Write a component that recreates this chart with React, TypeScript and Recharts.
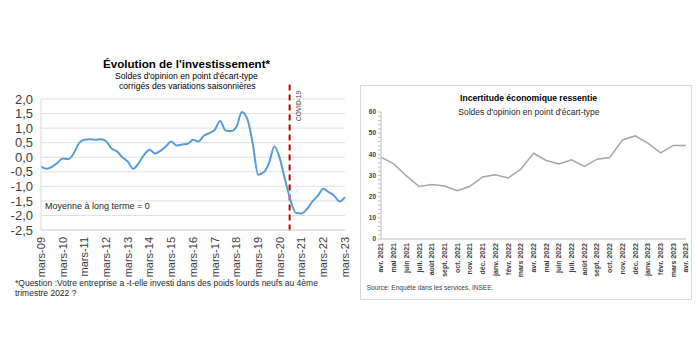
import React from "react";
import {
  LineChart, Line, XAxis, YAxis, CartesianGrid, ReferenceLine,
} from "recharts";

// quarterly balance of opinion, mars-09 .. mars-23
const INVEST = [
  -0.32, -0.4, -0.33, -0.2, -0.04, -0.07, 0.12, 0.48, 0.6, 0.62,
  0.6, 0.62, 0.55, 0.3, 0.2, 0.0, -0.15, -0.4, -0.2, 0.08,
  0.26, 0.13, 0.22, 0.37, 0.54, 0.4, 0.44, 0.46, 0.6, 0.54,
  0.74, 0.83, 0.94, 1.24, 0.92, 0.9, 1.04, 1.55, 1.32, 0.48,
  -0.6, -0.52, -0.2, 0.37, -0.05, -0.8, -1.5, -1.92, -1.93, -1.78,
  -1.52, -1.32, -1.08, -1.2, -1.32, -1.52, -1.37,
];
const YEAR_LABELS = [
  "mars-09", "mars-10", "mars-11", "mars-12", "mars-13", "mars-14", "mars-15",
  "mars-16", "mars-17", "mars-18", "mars-19", "mars-20", "mars-21", "mars-22", "mars-23",
];
const INVEST_TICKS = [-2.5, -2, -1.5, -1, -0.5, 0, 0.5, 1, 1.5, 2];
const COVID_AT = 45.8;

const MONTHS = [
  "avr. 2021", "mai 2021", "juin 2021", "juil. 2021", "août 2021", "sept. 2021",
  "oct. 2021", "nov. 2021", "déc. 2021", "janv. 2022", "févr. 2022", "mars 2022",
  "avr. 2022", "mai 2022", "juin 2022", "juil. 2022", "août 2022", "sept. 2022",
  "oct. 2022", "nov. 2022", "déc. 2022", "janv. 2023", "févr. 2023", "mars 2023",
  "avr. 2023",
];
const UNCERTAINTY = [
  38.7, 35.5, 29.8, 24.8, 25.7, 25.0, 22.8, 24.9, 29.3, 30.3,
  28.8, 33.0, 40.5, 37.1, 35.4, 37.4, 34.3, 37.7, 38.5, 46.8,
  48.7, 45.3, 40.7, 44.2, 44.2,
];
const UNC_TICKS = Array.from({ length: 31 }, (_, i) => i * 2);

const investData = INVEST.map((v, i) => ({ q: i, v }));
const uncData = MONTHS.map((m, i) => ({ m, v: UNCERTAINTY[i] }));
const FONT = "'Liberation Sans', Arial, sans-serif";

const YearTick = ({ x, y, payload }: any) => (
  <g transform={`translate(${x},${y})`}>
    <text transform="rotate(-90)" x={1} dy="0.35em" textAnchor="end"
      fontSize={11} fill="#404040" fontFamily={FONT}>
      {YEAR_LABELS[Math.round(payload.value / 4)]}
    </text>
  </g>
);

const MonthTick = ({ x, y, payload }: any) => (
  <g transform={`translate(${x},${y})`}>
    <text transform="rotate(-90)" x={4} dy="0.35em" textAnchor="end"
      fontSize={7} fontWeight="bold" fill="#404040" fontFamily={FONT}>
      {payload.value}
    </text>
  </g>
);

const covidLabel = (props: any) => {
  const vb = props.viewBox || {};
  return (
    <text transform={`translate(${vb.x + 9},91) rotate(-90)`} dy="0.35em" textAnchor="end"
      fontSize={6.5} fill="#404040" fontFamily={FONT}>
      COVID-19
    </text>
  );
};

export default function App() {
  return (
    <div style={{ position: "absolute", left: 0, top: 0, width: 696, height: 350, background: "#fff", fontFamily: FONT }}>
      <div style={{ position: "absolute", left: 0, top: 0 }}>
        <LineChart width={350} height={350} data={investData}
          margin={{ top: 99, right: 5, left: 0, bottom: 70 }}>
          <CartesianGrid vertical={false} stroke="#e0e0e0" />
          <XAxis type="number" dataKey="q" domain={[0, 56]} ticks={YEAR_LABELS.map((_, i) => i * 4)}
            interval={0} height={50} tick={<YearTick />} tickLine={false}
            axisLine={{ stroke: "#d9d9d9" }} />
          <YAxis domain={[-2.5, 2]} ticks={INVEST_TICKS} width={41} interval={0}
            tickFormatter={(v: number) => v.toFixed(1).replace(".", ",")}
            tick={{ fontSize: 13, fill: "#404040", fontFamily: FONT }}
            tickLine={false} axisLine={{ stroke: "#d9d9d9" }} />
          <ReferenceLine ifOverflow="visible" stroke="#c00000" strokeWidth={2} strokeDasharray="6 4"
            segment={[{ x: COVID_AT, y: 2.5 }, { x: COVID_AT, y: -2.55 }]} label={covidLabel} />
          <Line type="monotone" dataKey="v" stroke="#5b9bd5" strokeWidth={2}
            dot={false} isAnimationActive={false} />
        </LineChart>
      </div>

      <div style={{ position: "absolute", left: 360, top: 85, width: 332, height: 215,
        border: "1px solid #d9d9d9", boxSizing: "border-box" }}>
        <LineChart width={330} height={213} data={uncData}
          margin={{ top: 26, right: 5, left: 0, bottom: 20 }}>
          <XAxis dataKey="m" interval={0} height={40} tick={<MonthTick />} tickLine={false}
            axisLine={{ stroke: "#bfbfbf" }} />
          <YAxis domain={[0, 60]} ticks={UNC_TICKS} width={20} interval={0} tickSize={3}
            tickFormatter={(v: number) => (v % 10 === 0 ? String(v) : "")}
            tick={{ fontSize: 6.5, fontWeight: "bold", fill: "#404040", fontFamily: FONT }}
            tickLine={{ stroke: "#bfbfbf" }} axisLine={{ stroke: "#bfbfbf" }} />
          <Line type="linear" dataKey="v" stroke="#a6a6a6" strokeWidth={1.5}
            dot={false} isAnimationActive={false} />
        </LineChart>
      </div>

      <svg width={696} height={350} style={{ position: "absolute", left: 0, top: 0, pointerEvents: "none" }}
        fontFamily={FONT}>
        <text x={103} y={67.5} fontSize={11.6} fontWeight="bold" fill="#000">Évolution de l'investissement*</text>
        <text x={115} y={78.5} fontSize={8.6} fill="#000">Soldes d'opinion en point d'écart-type</text>
        <text x={119} y={88.5} fontSize={8.6} fill="#000">corrigés des variations saisonnières</text>
        <text x={45} y={209} fontSize={9} fill="#262626">Moyenne à  long terme = 0</text>
        <text x={15} y={285.7} fontSize={8.5} fill="#262626">*Question  :Votre entreprise a  -t-elle investi dans des poids lourds neufs au 4ème</text>
        <text x={15} y={295.5} fontSize={8.5} fill="#262626">trimestre 2022 ?</text>

        <text x={460} y={101.3} fontSize={8.6} fontWeight="bold" fill="#000">Incertitude économique ressentie</text>
        <text x={458.3} y={115} fontSize={8.5} fill="#262626">Soldes d'opinion en point d'écart-type</text>
        <text x={366.7} y={290} fontSize={6.6} fill="#404040">Source: Enquête dans les services, INSEE.</text>
      </svg>
    </div>
  );
}
